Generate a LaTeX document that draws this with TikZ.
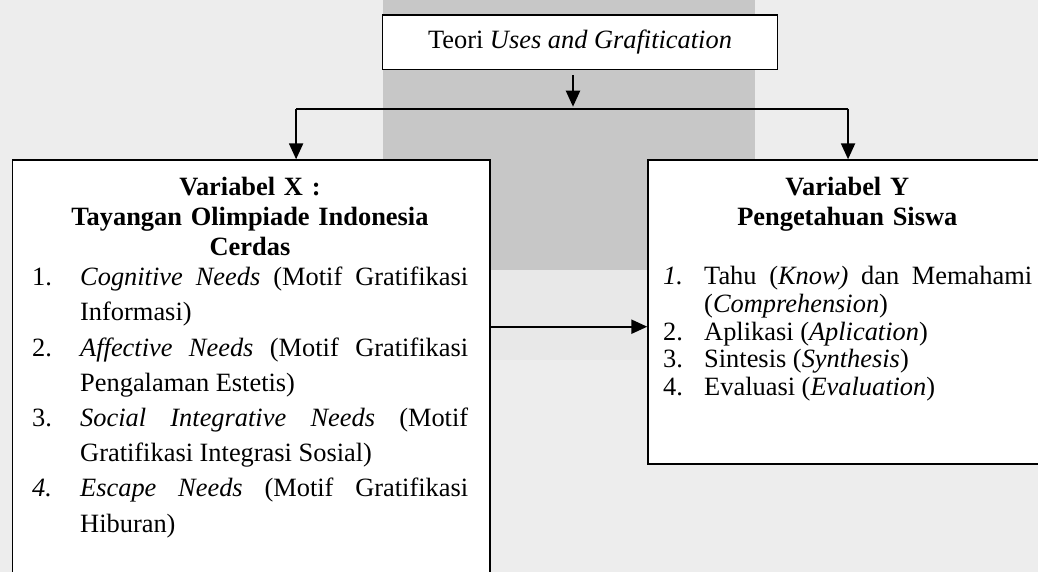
\documentclass[tikz,border=0pt]{standalone}
\usepackage{fontspec}
\setmainfont{Liberation Serif}
\usetikzlibrary{arrows.meta}
\usetikzlibrary{positioning}

\newcommand{\listitem}[3]{\noindent\tolerance=10000\hangindent=#1\hangafter=1\makebox[#1][l]{#2}#3\par}

\begin{document}
\begin{tikzpicture}[
  x=1pt, y=-1pt,
  font=\fontsize{26.4}{30}\selectfont,
  box/.style={draw, line width=1.5pt, fill=white, inner sep=0pt, anchor=north west},
  head/.style={font=\fontsize{26.4}{30}\selectfont\bfseries, align=center, inner sep=0pt, anchor=north},
  list/.style={align=justify, inner sep=0pt, anchor=north west},
  arrow/.style={-{Triangle[length=16pt,width=14pt]}, line width=2.2pt},
  connector/.style={line width=2.2pt}
]
\useasboundingbox (0,0) rectangle (1038,572);
\clip (0,0) rectangle (1038,572);
\fill[black!7] (0,0) rectangle (1038,572);
\fill[black!22] (383,0) rectangle (755,270);
\fill[black!9] (383,270) rectangle (755,360);

\node[box, anchor=center, minimum width=394.6pt, minimum height=54.3pt] (teori) at (580,42.2) {Teori \textit{Uses and Grafitication}};
\node[box, minimum width=477.3pt, minimum height=500pt] (varx) at (11.7,159.3) {};
\node[box, minimum width=400pt, minimum height=303.7pt] (vary) at (647.3,159.3) {};

\node[head, text width=440pt] (xhead) at (250,174) {\strut Variabel X :\\ Tayangan Olimpiade Indonesia\\ Cerdas};
\node[head, text width=380pt] (yhead) at (847.3,174.2) {\strut Variabel Y\\ Pengetahuan Siswa};

\node[list, text width=436pt, font=\fontsize{26.4}{35.2}\selectfont] (xlist) at (32,260.9) {%
  \listitem{48pt}{\strut 1.}{\textit{Cognitive Needs} (Motif Gratifikasi\linebreak Informasi)}%
  \listitem{48pt}{2.}{\textit{Affective Needs} (Motif Gratifikasi\linebreak Pengalaman Estetis)}%
  \listitem{48pt}{3.}{\textit{Social Integrative Needs} (Motif\linebreak Gratifikasi Integrasi Sosial)}%
  \listitem{48pt}{\textit{4.}}{\textit{Escape Needs} (Motif Gratifikasi\linebreak Hiburan)}};

\node[list, text width=369pt, font=\fontsize{26.4}{27.8}\selectfont] (ylist) at (663,264.8) {%
  \listitem{41pt}{\strut\textit{1.}}{Tahu (\textit{Know)} dan Memahami\linebreak (\textit{Comprehension})}%
  \listitem{41pt}{2.}{Aplikasi (\textit{Aplication})}%
  \listitem{41pt}{3.}{Sintesis (\textit{Synthesis})}%
  \listitem{41pt}{4.}{Evaluasi (\textit{Evaluation})}};

\coordinate (split) at (573,108.7);
\coordinate (xin) at ([xshift=45pt]varx.north);
\coordinate (mid) at (568,326.7);

\draw[arrow] ([xshift=-7pt,yshift=-5pt]teori.south) -- ([yshift=2pt]split);
\draw[connector] (xin |- split) -- (vary.north |- split);
\draw[arrow] (xin |- split) -- (xin);
\draw[arrow] (vary.north |- split) -- (vary.north);
\draw[arrow] (varx.east |- mid) -- (vary.west |- mid);

\end{tikzpicture}
\end{document}
